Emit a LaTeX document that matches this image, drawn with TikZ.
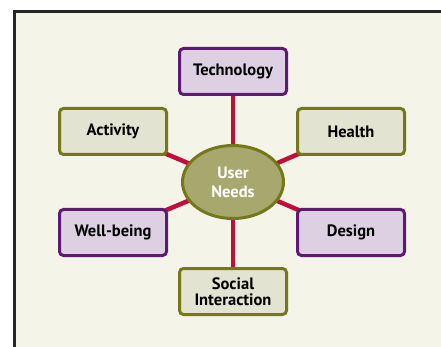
\documentclass[tikz,border=0pt]{standalone}
\usepackage{fontspec}
\setmainfont{PT Sans}
\usetikzlibrary{shapes.geometric,backgrounds}
\definecolor{paper}{HTML}{F4F4E8}
\definecolor{purpleline}{HTML}{5E1A72}
\definecolor{purplefill}{HTML}{DDD0E2}
\definecolor{oliveline}{HTML}{747819}
\definecolor{olivefill}{HTML}{E3E3D2}
\definecolor{hubfill}{HTML}{A6A86E}
\definecolor{spoke}{HTML}{C0103A}
\tikzset{
  label font/.style={font=\fontsize{16.5}{17}\selectfont\bfseries},
  topicbox/.style={rectangle, rounded corners=4pt, line width=3pt,
    minimum width=107pt, minimum height=46pt, inner sep=0pt,
    align=center, text=black, label font},
  purplebox/.style={topicbox, draw=purpleline, fill=purplefill},
  olivebox/.style={topicbox, draw=oliveline, fill=olivefill},
  hub/.style={ellipse, draw=oliveline, fill=hubfill, line width=3pt,
    minimum width=101pt, minimum height=73pt, inner sep=0pt,
    align=center, text=white, label font},
  spokeline/.style={draw=spoke, line width=4.5pt}
}
\begin{document}
\begin{tikzpicture}[x=1pt, y=-1pt]
  \useasboundingbox (0,0) rectangle (441,347);
  % page frame: dark rule on top and left, cream panel
  \begin{scope}[on background layer]
    \fill[white] (0,0) rectangle (441,347);
    \fill[black!85] (13,10) rectangle (441,347);
    \fill[paper] (16,13) rectangle (441,347);
  \end{scope}

  \node[hub] (needs) at (233,182) {User\\[2pt]Needs};
  \node[purplebox] (tech) at (233,71.5) {Technology};
  \node[olivebox] (activity) at (113,131.5) {Activity};
  \node[olivebox] (health) at (351,131.5) {Health};
  \node[purplebox] (wellbeing) at (113,232.5) {Well-being};
  \node[purplebox] (design) at (351,232.5) {Design};
  \node[olivebox] (social) at (233,291.5) {Social\\[-1pt]Interaction};

  % spokes run centre to centre, hidden under the boxes
  \begin{scope}[on background layer]
    \foreach \t in {tech,activity,health,wellbeing,design,social}
      \draw[spokeline] (needs.center) -- (\t.center);
  \end{scope}
\end{tikzpicture}
\end{document}
